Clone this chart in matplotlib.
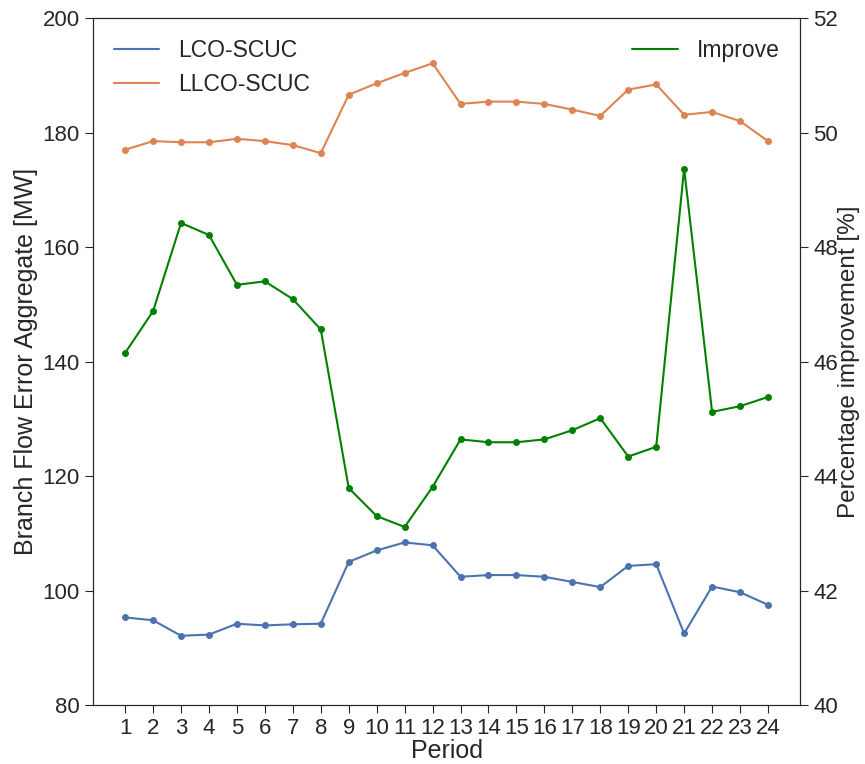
import numpy as np
import matplotlib
matplotlib.use('Agg')
import matplotlib.pyplot as plt
import seaborn as sns

sns.set_style('ticks')
plt.rcParams['font.family'] = ['Liberation Sans', 'DejaVu Sans']
plt.rcParams['font.size'] = 16

period = np.arange(1, 25)
lco_scuc = [95.3, 94.8, 92.1, 92.3, 94.2, 93.9, 94.1, 94.2, 105.0, 107.0, 108.4, 107.9,
            102.4, 102.7, 102.7, 102.4, 101.5, 100.6, 104.3, 104.6, 92.5, 100.7, 99.7, 97.5]
llco_scuc = [177.0, 178.5, 178.3, 178.3, 178.9, 178.5, 177.8, 176.4, 186.6, 188.6, 190.4, 192.1,
             185.0, 185.4, 185.4, 185.0, 184.0, 182.9, 187.5, 188.4, 183.1, 183.6, 182.0, 178.5]
improve = [46.15, 46.88, 48.42, 48.21, 47.34, 47.40, 47.09, 46.56, 43.79, 43.30, 43.11, 43.81,
           44.64, 44.59, 44.59, 44.64, 44.80, 45.01, 44.34, 44.51, 49.37, 45.12, 45.22, 45.38]

c_lco = '#4C72B0'
c_llco = '#DD8452'
c_imp = 'green'

fig, ax = plt.subplots(figsize=(8.65, 7.64), dpi=100)
fig.subplots_adjust(left=0.1075, right=0.925, top=0.9764, bottom=0.0772)

# lines carry the legend labels, dots drawn on top without labels
ax.plot(period, lco_scuc, color=c_lco, lw=1.5, label='LCO-SCUC')
ax.plot(period, lco_scuc, 'o', color=c_lco, ms=4)
ax.plot(period, llco_scuc, color=c_llco, lw=1.5, label='LLCO-SCUC')
ax.plot(period, llco_scuc, 'o', color=c_llco, ms=4)
ax.set_ylim(80, 200)
ax.set_xticks(period)
ax.set_xlabel('Period', fontsize=18, labelpad=0)
ax.set_ylabel('Branch Flow Error Aggregate [MW]', fontsize=18, labelpad=3)
ax.legend(loc='upper left', frameon=False, fontsize=16.5)

ax2 = ax.twinx()
ax2.plot(period, improve, color=c_imp, lw=1.5, label='Improve')
ax2.plot(period, improve, 'o', color=c_imp, ms=4)
ax2.set_ylim(40, 52)
ax2.set_ylabel('Percentage improvement [%]', fontsize=17.5, labelpad=0)
ax2.legend(loc='upper right', frameon=False, fontsize=16.5)

for a in (ax, ax2):
    a.tick_params(labelsize=16, length=6)

plt.savefig('out.png', dpi=100)
